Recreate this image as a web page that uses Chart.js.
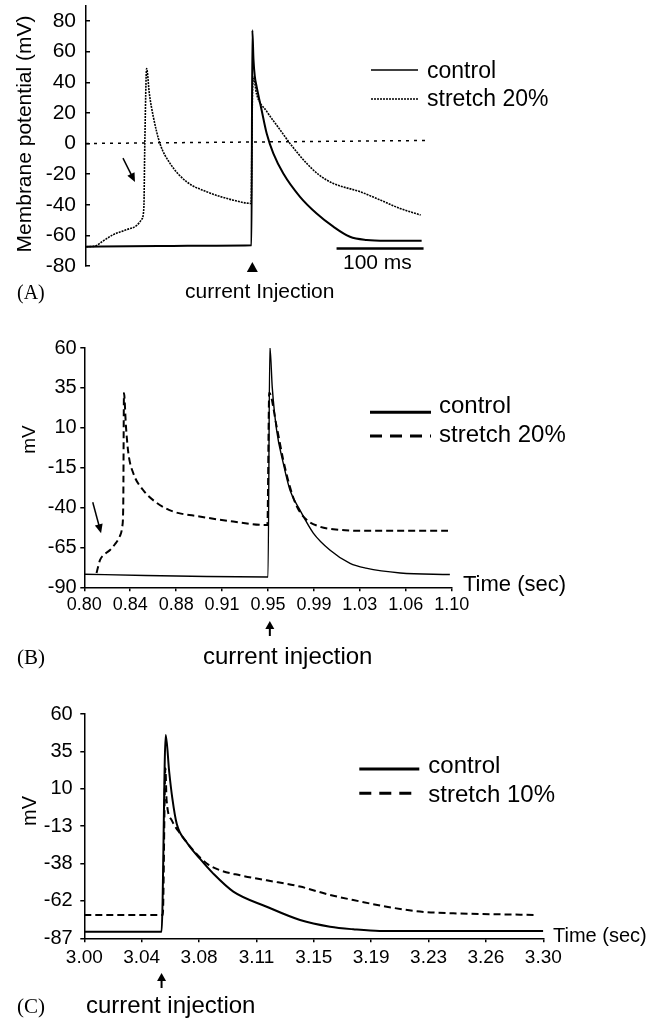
<!DOCTYPE html>
<html>
<head>
<meta charset="utf-8">
<script src="https://cdn.jsdelivr.net/npm/chart.js@4.4.1/dist/chart.umd.min.js"></script>
<style>
  body { margin: 0; background: #fff; }
  #fig { position: relative; width: 651px; height: 1025px; overflow: hidden; }
  #fig canvas { position: absolute; left: 0; }
</style>
</head>
<body>
<div id="fig">
  <canvas id="panelA" width="651" height="310" style="top:0px"></canvas>
  <canvas id="panelB" width="651" height="365" style="top:320px"></canvas>
  <canvas id="panelC" width="651" height="335" style="top:690px"></canvas>
</div>
<script>
const SANS = '"Liberation Sans", Arial, sans-serif';
const SERIF = '"Liberation Serif", "Times New Roman", serif';

// ---- Panel A: recorded traces, time in ms from start of sweep ----
const aYTicks = [80, 60, 40, 20, 0, -20, -40, -60, -80];
const aYLabels = ['80', '60', '40', '20', '0', '-20', '-40', '-60', '-80'];
const aControlT = [0, 50, 100, 150, 190.2, 191.2, 192.5, 194, 196.2, 201.9, 207.7, 215.3, 226.8, 246, 265.1, 284.3, 303.4, 322.6, 345, 385.8];
const aControlV = [-67.4, -67.1, -66.9, -66.7, -66.5, 74, 55, 44, 37, 21.7, 6.5, -6.5, -19.6, -34.8, -45.7, -54.3, -60.9, -63, -63.5, -63.5];
const aStretchT = [0.5, 10, 20, 31.4, 46.7, 58.3, 64, 66.5, 67.6, 69.7, 72.8, 77.4, 85, 96.6, 115.7, 138.7, 169.3, 189.8, 191.0, 192.3, 196.2, 207.7, 223, 234.5, 253.7, 269, 284.3, 315, 334.1, 360.9, 384.7];
const aStretchV = [-67.4, -67, -63.5, -59.5, -56.3, -53.5, -49.5, -42, 0, 48.9, 32.6, 17.4, 0, -13, -25, -31.5, -37, -39.1, 20, 43.5, 32, 21, 9, 0, -13, -21, -26.1, -31.5, -35.9, -42.4, -46.7];
const aZeroT = [0, 395];
const aZeroV = [0, 2];
const aScaleBarT = [288, 388];
const aScaleBarV = [-68.5, -68.5];
const aInjection = 191.2;

// ---- Panel B: model, stretch 20% ----
const bXTicks = [0.8, 0.8375, 0.875, 0.9125, 0.95, 0.9875, 1.025, 1.0625, 1.1];
const bXLabels = ['0.80', '0.84', '0.88', '0.91', '0.95', '0.99', '1.03', '1.06', '1.10'];
const bYTicks = [60, 35, 10, -15, -40, -65, -90];
const bYLabels = ['60', '35', '10', '-15', '-40', '-65', '-90'];
const bControlT = [0.800, 0.850, 0.900, 0.9500, 0.9515, 0.9535, 0.957, 0.9624, 0.9679, 0.976, 0.987, 1.0005, 1.017, 1.030, 1.058, 1.0985];
const bControlV = [-81.8, -82.6, -83.2, -83.5, 61, 35, 8.7, -12, -29, -41.5, -56, -66.6, -75, -78, -81, -82];
const bStretchT = [0.810, 0.8128, 0.817, 0.821, 0.825, 0.829, 0.831, 0.8318, 0.8324, 0.834, 0.836, 0.840, 0.848, 0.859, 0.8726, 0.894, 0.9216, 0.9495, 0.9510, 0.957, 0.9624, 0.9679, 0.9733, 0.9815, 0.9924, 1.0033, 1.017, 1.030, 1.097];
const bStretchV = [-81, -73, -69, -66.6, -63, -58, -52, -39, 31.8, 11, -6, -18.5, -29, -37, -42.5, -45.6, -48.8, -51, 32, 11, -10, -27, -39, -47.7, -52, -53.6, -54.4, -54.6, -54.6];
const bInjection = 0.9515;

// ---- Panel C: model, stretch 10% ----
const cXTicks = [3.0, 3.0375, 3.075, 3.1125, 3.15, 3.1875, 3.225, 3.2625, 3.3];
const cXLabels = ['3.00', '3.04', '3.08', '3.11', '3.15', '3.19', '3.23', '3.26', '3.30'];
const cYTicks = [60, 35.5, 11, -13.5, -38, -62.5, -87];
const cYLabels = ['60', '35', '10', '-13', '-38', '-62', '-87'];
const cControlT = [3.000, 3.030, 3.0505, 3.0532, 3.0555, 3.0575, 3.0604, 3.0669, 3.0757, 3.0843, 3.0974, 3.1192, 3.141, 3.1606, 3.1758, 3.193, 3.250, 3.300];
const cControlV = [-82.7, -82.7, -82.7, 46.2, 22, 5, -12, -24, -35, -44.6, -56.4, -66.3, -75, -79.4, -81.1, -82.2, -82.2, -82.2];
const cStretchT = [3.000, 3.030, 3.0513, 3.0530, 3.0538, 3.0571, 3.0625, 3.0712, 3.080, 3.0887, 3.1018, 3.1192, 3.141, 3.1606, 3.1758, 3.1976, 3.2194, 3.2412, 3.2957];
const cStretchV = [-71.7, -71.7, -71.7, 24.4, 3.5, -9.6, -18.2, -29.3, -38, -42.4, -45.7, -49, -53.1, -58.6, -61.9, -66.3, -69.5, -70.6, -71.7];
const cInjection = 3.0505;

function points(ts, vs) {
    return ts.map((t, i) => ({ x: t, y: vs[i] }));
}

function noPad(s) {
    s.paddingLeft = 0; s.paddingRight = 0; s.paddingTop = 0; s.paddingBottom = 0;
}

function trace(label, ts, vs, width, dash) {
    return {
        label: label,
        data: points(ts, vs),
        borderColor: '#000',
        borderWidth: width,
        borderDash: dash || [],
        pointRadius: 0,
        cubicInterpolationMode: 'monotone',
        fill: false
    };
}

function yAxis(ticks, labels, min, max, width, size, tickLen, pad) {
    return {
        type: 'linear', position: 'left', min: min, max: max,
        border: { display: true, color: '#000', width: 1.5 },
        grid: { drawOnChartArea: false, drawTicks: true, tickLength: tickLen, color: '#000', lineWidth: 1.5 },
        ticks: {
            color: '#000', font: { family: SANS, size: size }, padding: pad, autoSkip: false,
            callback: (v, i) => labels[i]
        },
        afterBuildTicks: s => { s.ticks = ticks.map(v => ({ value: v })); },
        afterFit: s => { s.width = width; noPad(s); }
    };
}

function xAxis(ticks, labels, min, max, size, pad) {
    return {
        type: 'linear', position: 'bottom', min: min, max: max,
        border: { display: true, color: '#000', width: 1.5 },
        grid: { drawOnChartArea: false, drawTicks: true, tickLength: 4, color: '#000', lineWidth: 1.5 },
        ticks: {
            color: '#000', font: { family: SANS, size: size }, padding: pad,
            autoSkip: false, maxRotation: 0, minRotation: 0,
            callback: (v, i) => labels[i]
        },
        afterBuildTicks: s => { s.ticks = ticks.map(v => ({ value: v })); },
        afterFit: s => { s.height = 30; noPad(s); }
    };
}

function drawArrow(ctx, x1, y1, x2, y2, head, half, lw) {
    const a = Math.atan2(y2 - y1, x2 - x1);
    const c = Math.cos(a), s = Math.sin(a);
    ctx.lineWidth = lw;
    ctx.beginPath();
    ctx.moveTo(x1, y1);
    ctx.lineTo(x2 - c * head * 0.8, y2 - s * head * 0.8);
    ctx.stroke();
    ctx.beginPath();
    ctx.moveTo(x2, y2);
    ctx.lineTo(x2 - head * c + half * s, y2 - head * s - half * c);
    ctx.lineTo(x2 - head * c - half * s, y2 - head * s + half * c);
    ctx.closePath();
    ctx.fill();
}

// legend, captions, axis titles and arrows around each panel
const figureMarks = {
    id: 'figureMarks',
    afterDraw(chart, args, opts) {
        const ctx = chart.ctx;
        const xs = chart.scales.x, ys = chart.scales.y;
        ctx.save();
        ctx.fillStyle = '#000';
        ctx.strokeStyle = '#000';

        const lg = opts.legend;
        if (lg) {
            lg.rows.forEach(row => {
                const ds = chart.data.datasets[row.dataset];
                ctx.beginPath();
                ctx.lineWidth = lg.sampleWidth;
                ctx.setLineDash(row.dash || []);
                ctx.moveTo(lg.sampleX[0], row.y);
                ctx.lineTo(lg.sampleX[1], row.y);
                ctx.stroke();
                ctx.setLineDash([]);
                ctx.font = lg.font;
                ctx.textAlign = 'left';
                ctx.textBaseline = 'alphabetic';
                ctx.fillText(ds.label, lg.textX, row.baseline);
            });
        }

        (opts.texts || []).forEach(t => {
            ctx.save();
            ctx.font = t.font;
            ctx.textAlign = t.align || 'left';
            ctx.textBaseline = t.baseline || 'alphabetic';
            ctx.translate(t.x, t.y);
            if (t.rotate) ctx.rotate(t.rotate);
            ctx.fillText(t.text, 0, 0);
            ctx.restore();
        });

        (opts.dataArrows || []).forEach(a => {
            drawArrow(ctx,
                xs.getPixelForValue(a.from[0]), ys.getPixelForValue(a.from[1]),
                xs.getPixelForValue(a.to[0]), ys.getPixelForValue(a.to[1]),
                9, 4, 1.5);
        });

        if (opts.upArrow) {
            const u = opts.upArrow;
            const px = xs.getPixelForValue(u.at);
            drawArrow(ctx, px, u.tail, px, u.tip, 8, 4.5, 2);
        }

        if (opts.triangle) {
            const tr = opts.triangle;
            const px = xs.getPixelForValue(tr.at);
            ctx.beginPath();
            ctx.moveTo(px, tr.top);
            ctx.lineTo(px + tr.half, tr.bottom);
            ctx.lineTo(px - tr.half, tr.bottom);
            ctx.closePath();
            ctx.fill();
        }
        ctx.restore();
    }
};

Chart.register(figureMarks);
Chart.defaults.animation = false;
Chart.defaults.responsive = false;
Chart.defaults.devicePixelRatio = 1;
Chart.defaults.plugins.legend.display = false;
Chart.defaults.plugins.tooltip.enabled = false;

// Panel A
new Chart(document.getElementById('panelA'), {
    type: 'line',
    data: {
        datasets: [
            trace('control', aControlT, aControlV, 2),
            trace('stretch 20%', aStretchT, aStretchV, 1.6, [2, 1]),
            trace('', aZeroT, aZeroV, 1.5, [3, 5]),
            trace('', aScaleBarT, aScaleBarV, 2.5)
        ]
    },
    options: {
        layout: { padding: { left: 0, top: 5.7, right: 217, bottom: 44 } },
        scales: {
            x: { type: 'linear', min: 0, max: 400, display: false },
            y: yAxis(aYTicks, aYLabels, -80, 90, 86, 21, -4, 14)
        },
        plugins: {
            figureMarks: {
                legend: {
                    sampleX: [371, 418], textX: 427, sampleWidth: 1.5,
                    font: '23px ' + SANS,
                    rows: [
                        { dataset: 0, y: 70, baseline: 78 },
                        { dataset: 1, y: 99, baseline: 105.5, dash: [2, 1] }
                    ]
                },
                texts: [
                    { text: 'Membrane potential (mV)', x: 25, y: 134, font: '21px ' + SANS, align: 'center', baseline: 'middle', rotate: -Math.PI / 2 },
                    { text: '100 ms', x: 343, y: 269, font: '21px ' + SANS },
                    { text: '(A)', x: 17, y: 299, font: '20px ' + SERIF },
                    { text: 'current Injection', x: 185, y: 298, font: '21px ' + SANS }
                ],
                dataArrows: [{ from: [42.5, -9.6], to: [56.3, -25.2] }],
                triangle: { at: aInjection, top: 262, bottom: 272, half: 5.5 }
            }
        }
    }
});

// Panel B
new Chart(document.getElementById('panelB'), {
    type: 'line',
    data: {
        datasets: [
            trace('control', bControlT, bControlV, 1.4),
            trace('stretch 20%', bStretchT, bStretchV, 2, [7, 4])
        ]
    },
    options: {
        layout: { padding: { left: 0, top: 28, right: 199.3, bottom: 67.7 } },
        scales: {
            x: xAxis(bXTicks, bXLabels, 0.8, 1.1, 18, 3),
            y: yAxis(bYTicks, bYLabels, -90, 60, 84.3, 20, 4, 3.6)
        },
        plugins: {
            figureMarks: {
                legend: {
                    sampleX: [370, 431], textX: 439, sampleWidth: 3,
                    font: '24px ' + SANS,
                    rows: [
                        { dataset: 0, y: 92.3, baseline: 93 },
                        { dataset: 1, y: 116, baseline: 122, dash: [12, 8] }
                    ]
                },
                texts: [
                    { text: 'mV', x: 30, y: 119.5, font: '19px ' + SANS, align: 'center', baseline: 'middle', rotate: -Math.PI / 2 },
                    { text: 'Time (sec)', x: 463, y: 271, font: '22px ' + SANS },
                    { text: '(B)', x: 17, y: 344, font: '21px ' + SERIF },
                    { text: 'current injection', x: 203, y: 344, font: '24px ' + SANS }
                ],
                dataArrows: [{ from: [0.8069, -36.7], to: [0.8137, -56.1] }],
                upArrow: { at: bInjection, tip: 301, tail: 316 }
            }
        }
    }
});

// Panel C
new Chart(document.getElementById('panelC'), {
    type: 'line',
    data: {
        datasets: [
            trace('control', cControlT, cControlV, 2),
            trace('stretch 10%', cStretchT, cStretchV, 2, [7, 4])
        ]
    },
    options: {
        layout: { padding: { left: 0, top: 24, right: 107.7, bottom: 56.7 } },
        scales: {
            x: xAxis(cXTicks, cXLabels, 3.0, 3.3, 19, 3.8),
            y: yAxis(cYTicks, cYLabels, -87, 60, 84.3, 20, 4, 7.6)
        },
        plugins: {
            figureMarks: {
                legend: {
                    sampleX: [359.3, 419.3], textX: 428.3, sampleWidth: 3,
                    font: '24px ' + SANS,
                    rows: [
                        { dataset: 0, y: 79, baseline: 83 },
                        { dataset: 1, y: 103.3, baseline: 112, dash: [12, 8] }
                    ]
                },
                texts: [
                    { text: 'mV', x: 30, y: 121, font: '20px ' + SANS, align: 'center', baseline: 'middle', rotate: -Math.PI / 2 },
                    { text: 'Time (sec)', x: 553, y: 252, font: '20px ' + SANS },
                    { text: '(C)', x: 17, y: 323, font: '21px ' + SERIF },
                    { text: 'current injection', x: 86, y: 323, font: '24px ' + SANS }
                ],
                upArrow: { at: cInjection, tip: 283, tail: 298 }
            }
        }
    }
});
</script>
</body>
</html>
